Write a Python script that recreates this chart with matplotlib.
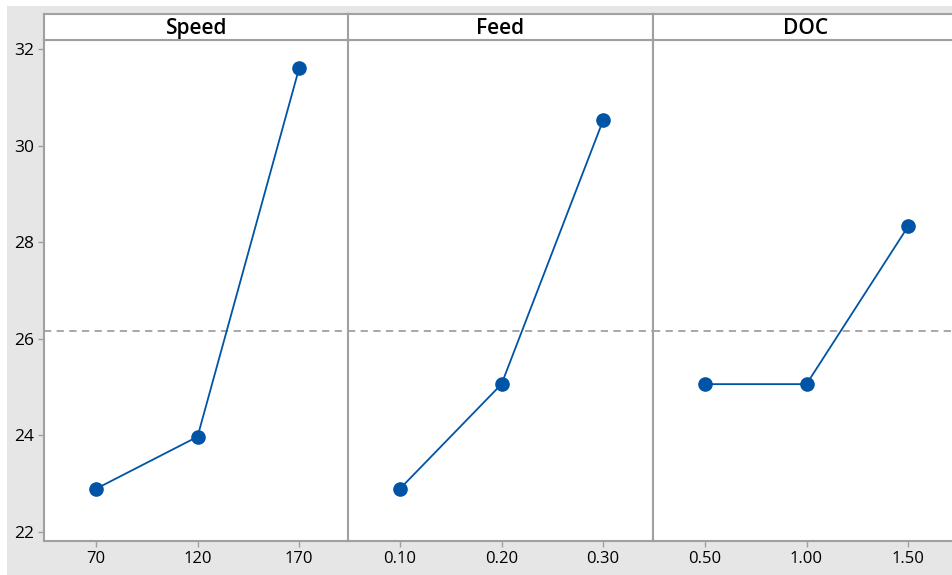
import matplotlib
matplotlib.use("Agg")
import matplotlib.pyplot as plt
from matplotlib.patches import Rectangle

plt.rcParams['font.family'] = ['Open Sans', 'DejaVu Sans']

factors = ["Speed", "Feed", "DOC"]
speed_levels = ["70", "120", "170"]
feed_levels = ["0.10", "0.20", "0.30"]
doc_levels = ["0.50", "1.00", "1.50"]
speed_means = [22.89, 23.97, 31.61]
feed_means = [22.89, 25.06, 30.53]
doc_means = [25.06, 25.06, 28.33]
grand_mean = 26.16
yticks = [22, 24, 26, 28, 30, 32]

levels = [speed_levels, feed_levels, doc_levels]
means = [speed_means, feed_means, doc_means]

W, H = 952, 575
fig = plt.figure(figsize=(W / 100, H / 100), dpi=100)
fig.patch.set_facecolor('#e6e6e6')
# white margins at top and left
fig.patches.append(Rectangle((0, 1 - 6 / H), 1, 6 / H, transform=fig.transFigure,
                             facecolor='white', edgecolor='none', zorder=-10))
fig.patches.append(Rectangle((0, 0), 7 / W, 1, transform=fig.transFigure,
                             facecolor='white', edgecolor='none', zorder=-10))

blue = '#0054a6'
border = '#a0a0a0'
lefts = [44, 348, 653]
pw = 305
plot_top, plot_bot = 40, 541
head_top = 14

for i, (name, lv, mv) in enumerate(zip(factors, levels, means)):
    x0 = lefts[i]
    ax = fig.add_axes([x0 / W, 1 - plot_bot / H, pw / W, (plot_bot - plot_top) / H])
    hx = fig.add_axes([x0 / W, 1 - plot_top / H, pw / W, (plot_top - head_top) / H])
    xs = list(range(len(lv)))
    ax.plot(xs, mv, color=blue, lw=1.3, marker='o', ms=9.5, zorder=3)
    ax.axhline(grand_mean, color='#a0a0a0', lw=1.3, ls=(0, (4, 3)), zorder=2)
    ax.set_xlim(-0.51, 2.49)
    ax.set_ylim(21.81, 32.19)
    ax.set_xticks(xs)
    ax.set_xticklabels(lv, fontsize=12, fontweight='medium')
    ax.set_yticks(yticks)
    ax.set_yticklabels([str(t) for t in yticks], fontsize=12.5, fontweight='medium')
    ax.tick_params(axis='both', color=border, length=4, width=1, pad=3)
    if i > 0:
        ax.tick_params(axis='y', left=False, labelleft=False)
    for s in ax.spines.values():
        s.set_color(border)
        s.set_linewidth(1.5)
    ax.set_facecolor('white')

    hx.set_xticks([])
    hx.set_yticks([])
    hx.set_facecolor('white')
    for s in hx.spines.values():
        s.set_color(border)
        s.set_linewidth(1.5)
    hx.text(0.5, 0.45, name, ha='center', va='center', fontsize=15,
            fontweight='semibold', transform=hx.transAxes)

fig.savefig('out.png', dpi=100, facecolor=fig.get_facecolor())
